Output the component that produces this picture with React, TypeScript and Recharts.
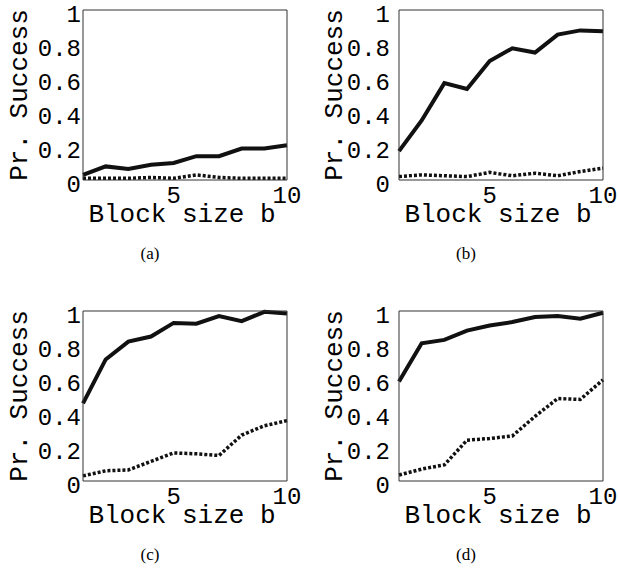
import { LineChart, Line, XAxis, YAxis } from 'recharts'

const blockSizes = [1, 2, 3, 4, 5, 6, 7, 8, 9, 10]
const xTicks = [5, 10]
const yTicks = [0, 0.2, 0.4, 0.6, 0.8, 1]

const solidA = [0.03, 0.08, 0.065, 0.09, 0.1, 0.14, 0.14, 0.185, 0.185, 0.205]
const dottedA = [0.01, 0.01, 0.01, 0.015, 0.01, 0.03, 0.015, 0.01, 0.01, 0.01]
const solidB = [0.17, 0.35, 0.57, 0.535, 0.7, 0.775, 0.75, 0.855, 0.88, 0.875]
const dottedB = [0.02, 0.03, 0.025, 0.02, 0.045, 0.025, 0.04, 0.025, 0.05, 0.07]
const solidC = [0.457, 0.715, 0.82, 0.85, 0.93, 0.925, 0.97, 0.94, 0.995, 0.985]
const dottedC = [0.03, 0.06, 0.065, 0.115, 0.165, 0.16, 0.15, 0.27, 0.325, 0.355]
const solidD = [0.585, 0.81, 0.83, 0.885, 0.915, 0.935, 0.965, 0.97, 0.955, 0.99]
const dottedD = [0.035, 0.07, 0.095, 0.24, 0.25, 0.265, 0.38, 0.485, 0.48, 0.595]

const mono = '"Liberation Mono", "DejaVu Sans Mono", monospace'
const axisColor = '#333'

type PanelProps = {
  solid: number[]
  dotted: number[]
  caption: string
  left: number
  top: number
  right?: boolean
}

function Panel({ solid, dotted, caption, left, top, right }: PanelProps) {
  const data = blockSizes.map((b, i) => ({ b, solid: solid[i], dotted: dotted[i] }))
  const yWidth = right ? 90 : 83
  const yLabelX = right ? 33 : 27

  return (
    <div style={{ position: 'absolute', left, top, width: 309, height: 290 }}>
      <LineChart
        width={309}
        height={240}
        data={data}
        margin={{ top: 10, right: right ? 15 : 22, left: 0, bottom: 0 }}
      >
        <XAxis
          dataKey="b"
          type="number"
          domain={[1, 10]}
          ticks={xTicks}
          interval={0}
          height={60}
          tickSize={0}
          tickMargin={6}
          stroke={axisColor}
          tick={{ fontSize: 24, fontFamily: mono, fill: '#000' }}
          label={{
            content: (p: any) => {
              const vb = p.viewBox
              return (
                <text
                  x={vb.x + vb.width / 2 - 3}
                  y={vb.y + 42}
                  textAnchor="middle"
                  fontSize={26}
                  fontFamily={mono}
                  fill="#000"
                >
                  Block size b
                </text>
              )
            },
          }}
        />
        <XAxis xAxisId="bm" orientation="bottom" mirror type="number" domain={[1, 10]} ticks={xTicks} interval={0} tick={false} axisLine={false} tickSize={3} stroke={axisColor} />
        <XAxis xAxisId="tm" orientation="top" mirror type="number" domain={[1, 10]} ticks={xTicks} interval={0} tick={false} tickSize={3} stroke={axisColor} />
        <YAxis
          type="number"
          domain={[0, 1]}
          ticks={yTicks}
          interval={0}
          width={yWidth}
          tickSize={0}
          tickMargin={right ? 9 : 2}
          stroke={axisColor}
          tick={{ fontSize: 24, fontFamily: mono, fill: '#000', dy: 3 }}
          label={{
            content: (p: any) => {
              const vb = p.viewBox
              const cy = vb.y + vb.height / 2
              return (
                <text
                  x={vb.x + yLabelX}
                  y={cy}
                  textAnchor="middle"
                  transform={`rotate(-90, ${vb.x + yLabelX}, ${cy})`}
                  fontSize={26}
                  fontFamily={mono}
                  fill="#000"
                >
                  Pr. Success
                </text>
              )
            },
          }}
        />
        <YAxis yAxisId="lm" orientation="left" mirror type="number" domain={[0, 1]} ticks={yTicks} interval={0} tick={false} axisLine={false} tickSize={3} stroke={axisColor} />
        <YAxis yAxisId="rm" orientation="right" mirror type="number" domain={[0, 1]} ticks={yTicks} interval={0} tick={false} tickSize={3} stroke={axisColor} />
        <Line
          dataKey="dotted"
          type="linear"
          stroke="#111"
          strokeWidth={3.5}
          strokeDasharray="3 2"
          dot={false}
          isAnimationActive={false}
        />
        <Line
          dataKey="solid"
          type="linear"
          stroke="#111"
          strokeWidth={4}
          dot={false}
          isAnimationActive={false}
        />
      </LineChart>
      <div
        style={{
          position: 'absolute',
          left: right ? 157 : 150,
          top: 244,
          transform: 'translateX(-50%)',
          fontFamily: '"Liberation Serif", "Times New Roman", serif',
          fontSize: 17,
          color: '#000',
        }}
      >
        {caption}
      </div>
    </div>
  )
}

export default function App() {
  return (
    <div style={{ position: 'absolute', left: 0, top: 0, width: 618, height: 569, background: '#fff' }}>
      <Panel solid={solidA} dotted={dottedA} caption="(a)" left={0} top={0} />
      <Panel solid={solidB} dotted={dottedB} caption="(b)" left={309} top={0} right />
      <Panel solid={solidC} dotted={dottedC} caption="(c)" left={0} top={301} />
      <Panel solid={solidD} dotted={dottedD} caption="(d)" left={309} top={301} right />
    </div>
  )
}
